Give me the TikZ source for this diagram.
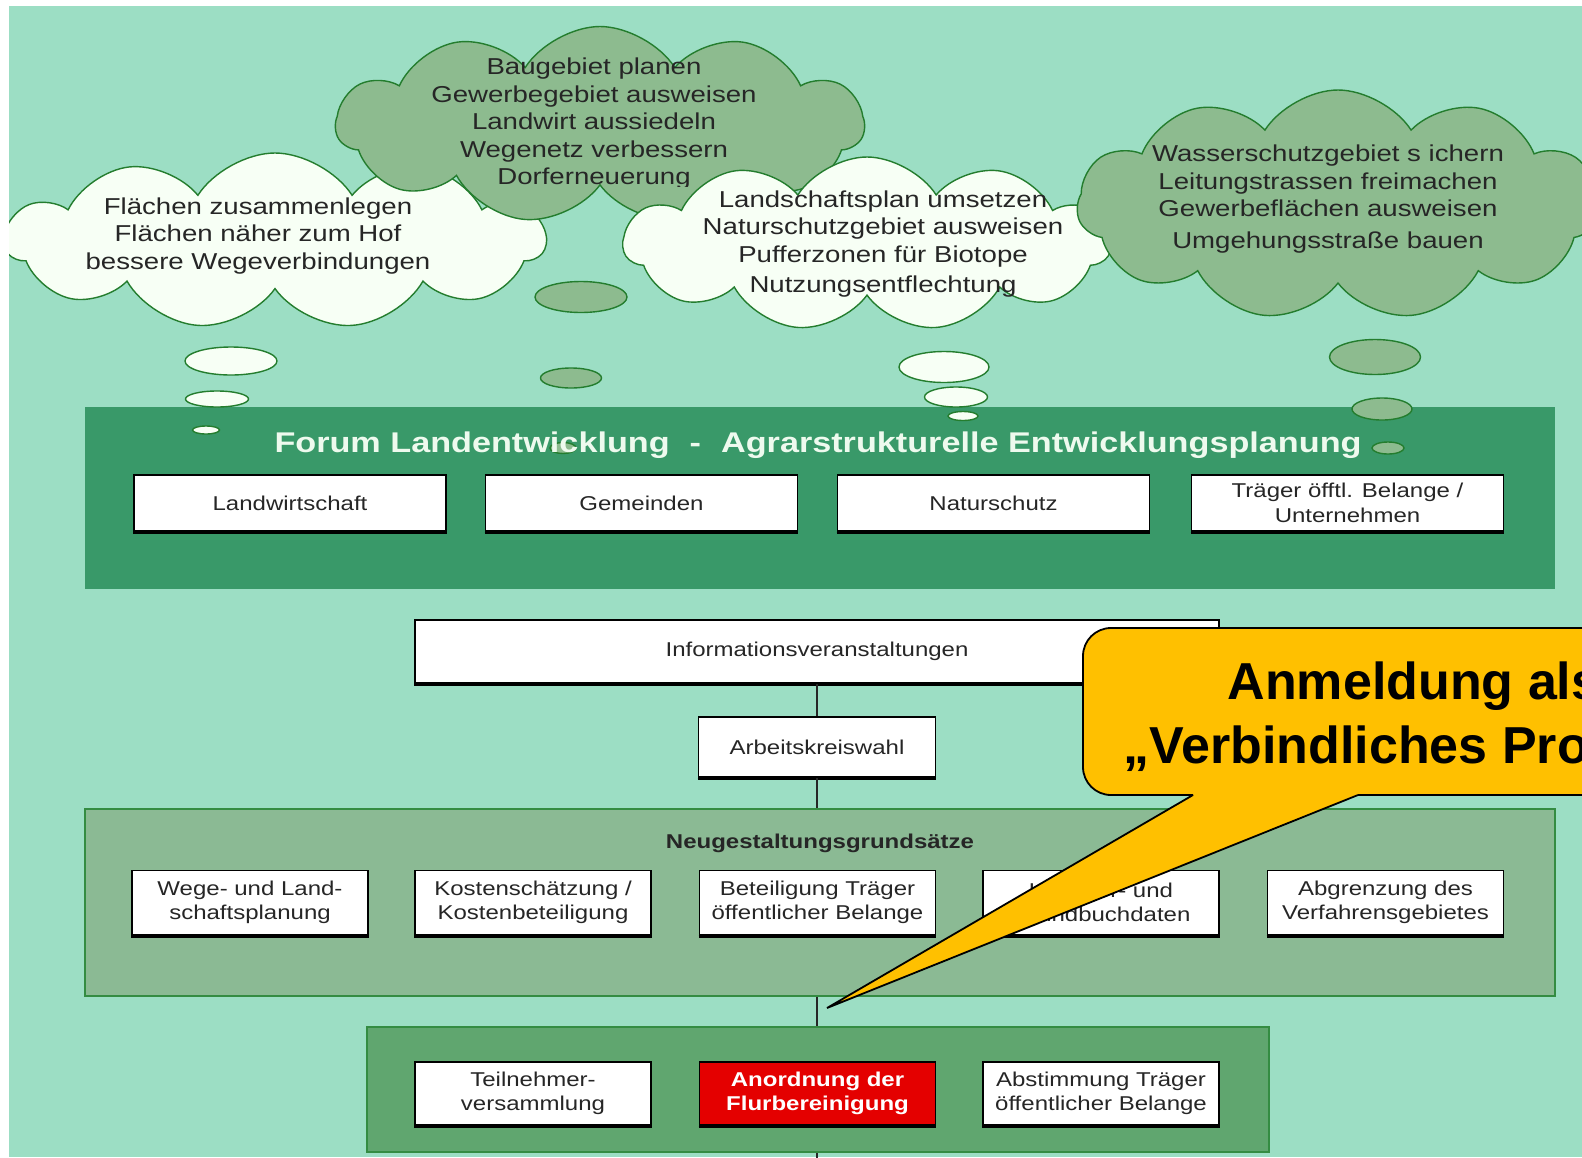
\documentclass[tikz,border=0pt]{standalone}
\usepackage{fontspec}
\setmainfont{Liberation Sans}
\newfontfamily\diagfont[FakeStretch=1.2]{Liberation Sans}
\usetikzlibrary{shapes.symbols,shapes.geometric}

\definecolor{mintbg}{RGB}{156,222,196}
\definecolor{forumgreen}{RGB}{57,153,105}
\definecolor{neugreen}{RGB}{139,186,148}
\definecolor{untengreen}{RGB}{96,166,111}
\definecolor{panelline}{RGB}{52,140,66}
\definecolor{cloudgrey}{RGB}{141,187,143}
\definecolor{cloudwhite}{RGB}{247,255,245}
\definecolor{cloudline}{RGB}{36,125,46}
\definecolor{titlewhite}{RGB}{238,250,238}
\definecolor{flurred}{RGB}{228,0,0}
\definecolor{calloutgold}{RGB}{255,192,0}

\begin{document}
\begin{tikzpicture}[x=1pt,y=-1pt,
    cloudbase/.style={cloud, cloud puffs=11, cloud puff arc=115, cloud ignores aspect,
        draw=cloudline, line width=1.4pt, inner sep=0pt},
    cloudw/.style={cloudbase, fill=cloudwhite},
    cloudg/.style={cloudbase, fill=cloudgrey},
    bubble/.style={ellipse, draw=cloudline, line width=1.4pt, inner sep=0pt},
    thought/.style={align=center, text=black!85, font=\diagfont\fontsize{23}{27.5}\selectfont},
    panel/.style={rectangle, inner sep=0pt},
    tbox/.style={rectangle, draw=black, line width=1.6pt, fill=white, align=center,
        text=black!85, inner sep=1pt, font=\diagfont\fontsize{20}{24.5}\selectfont},
    conn/.style={line width=2.2pt, black!85},
]
    \useasboundingbox (0,0) rectangle (1582,1157);
    \fill[white] (0,0) rectangle (1582,1157);
    \fill[mintbg] (9,6) rectangle (1582,1157);
    \clip (9,6) rectangle (1582,1157);

    % thought clouds
    \node[cloudw, minimum width=540pt, minimum height=176pt] (c1) at (275,241) {};
    \node[thought] (t1) at (258,236) {Flächen zusammenlegen\\Flächen näher zum Hof\\bessere Wegeverbindungen};

    \node[cloudg, minimum width=528pt, minimum height=197pt] (c2) at (600,125) {};
    \begin{scope}
        \clip (340,30) rectangle (860,186);
        \node[thought] (t2) at (594,124) {Baugebiet planen\\Gewerbegebiet ausweisen\\Landwirt aussiedeln\\Wegenetz verbessern\\Dorferneuerung};
    \end{scope}

    \node[cloudw, minimum width=487pt, minimum height=174pt] (c3) at (867,244) {};
    \node[thought] (t3) at (883,244) {Landschaftsplan umsetzen\\Naturschutzgebiet ausweisen\\Pufferzonen für Biotope\\[3pt]Nutzungsentflechtung};

    \node[cloudg, minimum width=522pt, minimum height=230pt] (c4) at (1338,205) {};
    \node[thought] (t4) at (1328,199) {Wasserschutzgebiet s ichern\\Leitungstrassen freimachen\\Gewerbeflächen ausweisen\\[4pt]Umgehungsstraße bauen};

    % Forum
    \node[panel, fill=forumgreen, minimum width=1470pt, minimum height=182pt] (forum) at (820,498) {};

    \node[bubble, fill=cloudwhite, minimum width=92pt, minimum height=28pt] (b1a) at (231,361) {};
    \node[bubble, fill=cloudwhite, minimum width=63pt, minimum height=16pt] (b1b) at (217,399) {};
    \node[bubble, fill=cloudwhite, minimum width=27pt, minimum height=8pt] (b1c) at (206,430) {};
    \node[bubble, fill=cloudgrey, minimum width=92pt, minimum height=31pt] (b2a) at (581,297) {};
    \node[bubble, fill=cloudgrey, minimum width=61pt, minimum height=20pt] (b2b) at (571,378) {};
    \node[bubble, fill=cloudgrey, minimum width=26pt, minimum height=11pt] (b2c) at (563,448) {};
    \node[bubble, fill=cloudwhite, minimum width=90pt, minimum height=31pt] (b3a) at (944,367) {};
    \node[bubble, fill=cloudwhite, minimum width=63pt, minimum height=20pt] (b3b) at (956,397) {};
    \node[bubble, fill=cloudwhite, minimum width=30pt, minimum height=9pt] (b3c) at (963,416) {};
    \node[bubble, fill=cloudgrey, minimum width=91pt, minimum height=35pt] (b4a) at (1375,357) {};
    \node[bubble, fill=cloudgrey, minimum width=60pt, minimum height=22pt] (b4b) at (1382,409) {};
    \node[bubble, fill=cloudgrey, minimum width=32pt, minimum height=12pt] (b4c) at (1388,448) {};

    \node[anchor=base, text=titlewhite, font=\diagfont\bfseries\fontsize{28.5}{34}\selectfont] (ftitle) at (818,452)
        {Forum Landentwicklung\hspace{20pt}-\hspace{20pt}Agrarstrukturelle Entwicklungsplanung};

    \node[tbox, minimum width=312pt, minimum height=56pt] (lw) at (290,503) {Landwirtschaft};
    \node[tbox, minimum width=312pt, minimum height=56pt] (gem) at (641.5,503) {Gemeinden};
    \node[tbox, minimum width=312pt, minimum height=56pt] (nat) at (993.5,503) {Naturschutz};
    \node[tbox, minimum width=312pt, minimum height=56pt] (tra) at (1347.5,503) {Träger öfftl. Belange /\\Unternehmen};

    % Informationsphase
    \node[tbox, minimum width=804pt, minimum height=63pt] (info) at (817,651.5) {Informationsveranstaltungen};
    \node[tbox, minimum width=237pt, minimum height=60pt] (akw) at (817,747) {Arbeitskreiswahl};

    % Neugestaltungsgrundsaetze
    \node[panel, fill=neugreen, draw=panelline, line width=1.5pt, minimum width=1470pt, minimum height=187pt] (neu) at (820,902.5) {};
    \node[font=\diagfont\bfseries\fontsize{20}{24}\selectfont, text=black!85] (neutitle) at (820,843) {Neugestaltungsgrundsätze};
    \node[tbox, minimum width=236pt, minimum height=64pt] (wege) at (250,902.5) {Wege- und Land-\\schaftsplanung};
    \node[tbox, minimum width=236pt, minimum height=64pt] (kost) at (533,902.5) {Kostenschätzung /\\Kostenbeteiligung};
    \node[tbox, minimum width=236pt, minimum height=64pt] (bet) at (817.5,902.5) {Beteiligung Träger\\öffentlicher Belange};
    \node[tbox, minimum width=236pt, minimum height=64pt] (kat) at (1101,902.5) {Kataster- und\\Grundbuchdaten};
    \node[tbox, minimum width=236pt, minimum height=64pt] (abgr) at (1385.5,902.5) {Abgrenzung des\\Verfahrensgebietes};

    % Anordnung
    \node[panel, fill=untengreen, draw=panelline, line width=1.5pt, minimum width=902pt, minimum height=125pt] (unten) at (818,1089.5) {};
    \node[tbox, minimum width=236pt, minimum height=63pt] (tnv) at (533,1093.5) {Teilnehmer-\\versammlung};
    \node[tbox, fill=flurred, text=white, minimum width=236pt, minimum height=63pt,
        font=\diagfont\bfseries\fontsize{20}{24.5}\selectfont] (anord) at (817.5,1093.5) {Anordnung der\\Flurbereinigung};
    \node[tbox, minimum width=236pt, minimum height=63pt] (abst) at (1101,1093.5) {Abstimmung Träger\\öffentlicher Belange};

    \foreach \b in {lw,gem,nat,tra,info,akw,wege,kost,bet,kat,abgr,tnv,anord,abst}
        \draw[line width=2.6pt] ([yshift=-1pt]\b.south west) -- ([yshift=-1pt]\b.south east);

    % Verbindungen
    \coordinate (off) at (817,1170);
    \draw[conn] (info.south -| akw) -- (akw.north);
    \draw[conn] (akw.south) -- (neu.north -| akw);
    \draw[conn] (neu.south -| akw) -- (unten.north -| akw);
    \draw[conn] (unten.south -| akw) -- (off);

    % Sprechblase
    \coordinate (tip) at (827,1008);
    \coordinate (tl) at (1193,795);
    \coordinate (tr) at (1358,795);
    \fill[calloutgold, rounded corners=28pt] (1083,628) rectangle (1745,795);
    \fill[calloutgold] (tl) -- (tip) -- (tr) -- cycle;
    \draw[line width=1.8pt, rounded corners=28pt] (tl) -- (1083,795) -- (1083,628) -- (1745,628) -- (1745,795) -- (tr);
    \draw[line width=1.8pt] (tl) -- (tip) -- (tr);
    \node[anchor=base, font=\bfseries\fontsize{52}{64}\selectfont] (anm) at (1414,699) {Anmeldung als};
    \node[anchor=base, font=\bfseries\fontsize{52}{64}\selectfont] (vbp) at (1414,763) {„Verbindliches Projekt“};
\end{tikzpicture}
\end{document}
